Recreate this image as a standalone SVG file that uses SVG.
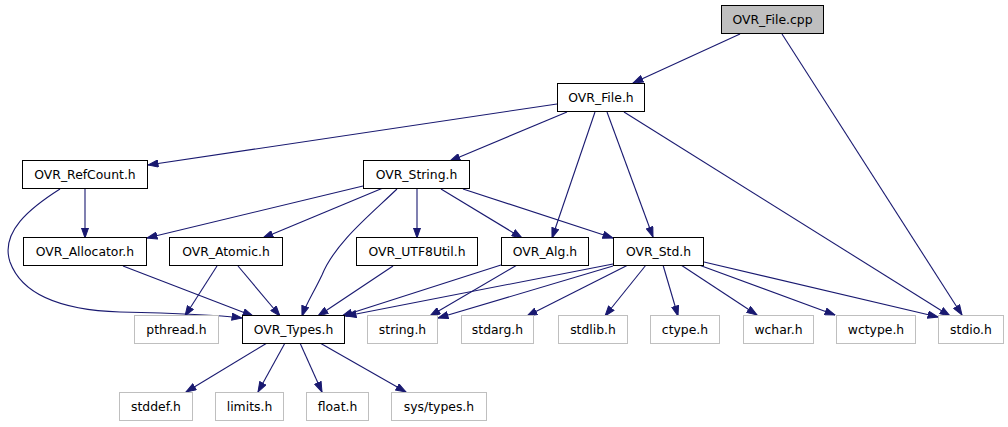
<svg xmlns="http://www.w3.org/2000/svg" width="1008" height="427" viewBox="0 0 1008 427">
<style>
.n rect{fill:#ffffff;stroke:#000000;stroke-width:1}
.n.g rect{stroke:#bfbfbf}
.n.root rect{fill:#bfbfbf}
.n text{font-family:"DejaVu Sans",sans-serif;font-size:12.4px;fill:#000000;text-anchor:middle}
#edges path{fill:none;stroke:#191970;stroke-width:1.1;marker-end:url(#ah)}
</style>
<defs>
<marker id="ah" markerUnits="userSpaceOnUse" viewBox="0 0 11 8" refX="10.5" refY="4" markerWidth="11" markerHeight="8" orient="auto">
<path d="M0.5,0.5 L10.5,4 L0.5,7.5 z" fill="#191970" stroke="#191970" stroke-width="1"/>
</marker>
</defs>
<rect width="1008" height="427" fill="#ffffff"/>
<g id="edges">
<path d="M740,34 L633,83"/>
<path d="M782,34 L962,315"/>
<path d="M557,104 L148,165"/>
<path d="M567,112 L450,161"/>
<path d="M595,112 L552,238"/>
<path d="M607,112 L653,237"/>
<path d="M624,112 L950,316"/>
<path d="M85,189 L85,238"/>
<path d="M60,189 C30,208 0,232 10,262 C22,295 60,310 120,312 C170,313 210,314 242,318"/>
<path d="M363,186 L147,238"/>
<path d="M383,188 L263,238"/>
<path d="M397,189 C370,215 335,243 322,275 C314,292 306,304 302,316"/>
<path d="M417,189 L417,238"/>
<path d="M441,189 L522,238"/>
<path d="M463,189 L613,238"/>
<path d="M123,266 L253,316"/>
<path d="M217,266 L185,316"/>
<path d="M238,266 L280,316"/>
<path d="M393,266 L318,316"/>
<path d="M501,265 L342,316"/>
<path d="M517,265 L430,316"/>
<path d="M613,264 L346,316"/>
<path d="M613,266 L438,318"/>
<path d="M628,265 L527,316"/>
<path d="M646,265 L605,316"/>
<path d="M663,265 L678,316"/>
<path d="M681,265 L757,315"/>
<path d="M699,265 L835,315"/>
<path d="M704,262 L938,317"/>
<path d="M267,343 L186,392"/>
<path d="M285,343 L258,392"/>
<path d="M300,343 L322,392"/>
<path d="M320,343 L406,392"/>
</g>
<g id="n_file_cpp" class="n root"><rect x="721.5" y="5.5" width="102" height="28"/><text x="772.5" y="24">OVR_File.cpp</text></g>
<g id="n_file_h" class="n"><rect x="557.5" y="83.5" width="87" height="28"/><text x="601" y="102">OVR_File.h</text></g>
<g id="n_refcount" class="n"><rect x="22.5" y="160.5" width="125" height="28"/><text x="85" y="179">OVR_RefCount.h</text></g>
<g id="n_string" class="n"><rect x="363.5" y="160.5" width="106" height="28"/><text x="416.5" y="179">OVR_String.h</text></g>
<g id="n_allocator" class="n"><rect x="23.5" y="237.5" width="123" height="28"/><text x="85" y="256">OVR_Allocator.h</text></g>
<g id="n_atomic" class="n"><rect x="169.5" y="237.5" width="113" height="28"/><text x="226" y="256">OVR_Atomic.h</text></g>
<g id="n_utf8" class="n"><rect x="356.5" y="237.5" width="121" height="28"/><text x="417" y="256">OVR_UTF8Util.h</text></g>
<g id="n_alg" class="n"><rect x="501.5" y="237.5" width="87" height="28"/><text x="545" y="256">OVR_Alg.h</text></g>
<g id="n_std" class="n"><rect x="613.5" y="237.5" width="90" height="28"/><text x="658.5" y="256">OVR_Std.h</text></g>
<g id="n_pthread" class="n g"><rect x="134.5" y="315.5" width="84" height="28"/><text x="176.5" y="334">pthread.h</text></g>
<g id="n_types" class="n"><rect x="242.5" y="315.5" width="102" height="28"/><text x="293.5" y="334">OVR_Types.h</text></g>
<g id="n_string_h" class="n g"><rect x="367.5" y="315.5" width="70" height="28"/><text x="402.5" y="334">string.h</text></g>
<g id="n_stdarg" class="n g"><rect x="461.5" y="315.5" width="72" height="28"/><text x="497.5" y="334">stdarg.h</text></g>
<g id="n_stdlib" class="n g"><rect x="558.5" y="315.5" width="69" height="28"/><text x="593" y="334">stdlib.h</text></g>
<g id="n_ctype" class="n g"><rect x="650.5" y="315.5" width="69" height="28"/><text x="685" y="334">ctype.h</text></g>
<g id="n_wchar" class="n g"><rect x="743.5" y="315.5" width="70" height="28"/><text x="778.5" y="334">wchar.h</text></g>
<g id="n_wctype" class="n g"><rect x="836.5" y="315.5" width="79" height="28"/><text x="876" y="334">wctype.h</text></g>
<g id="n_stdio" class="n g"><rect x="938.5" y="315.5" width="65" height="28"/><text x="971" y="334">stdio.h</text></g>
<g id="n_stddef" class="n g"><rect x="119.5" y="392.5" width="73" height="28"/><text x="156" y="411">stddef.h</text></g>
<g id="n_limits" class="n g"><rect x="215.5" y="392.5" width="68" height="28"/><text x="249.5" y="411">limits.h</text></g>
<g id="n_float" class="n g"><rect x="306.5" y="392.5" width="62" height="28"/><text x="337.5" y="411">float.h</text></g>
<g id="n_systypes" class="n g"><rect x="391.5" y="392.5" width="95" height="28"/><text x="439" y="411">sys/types.h</text></g>
</svg>
